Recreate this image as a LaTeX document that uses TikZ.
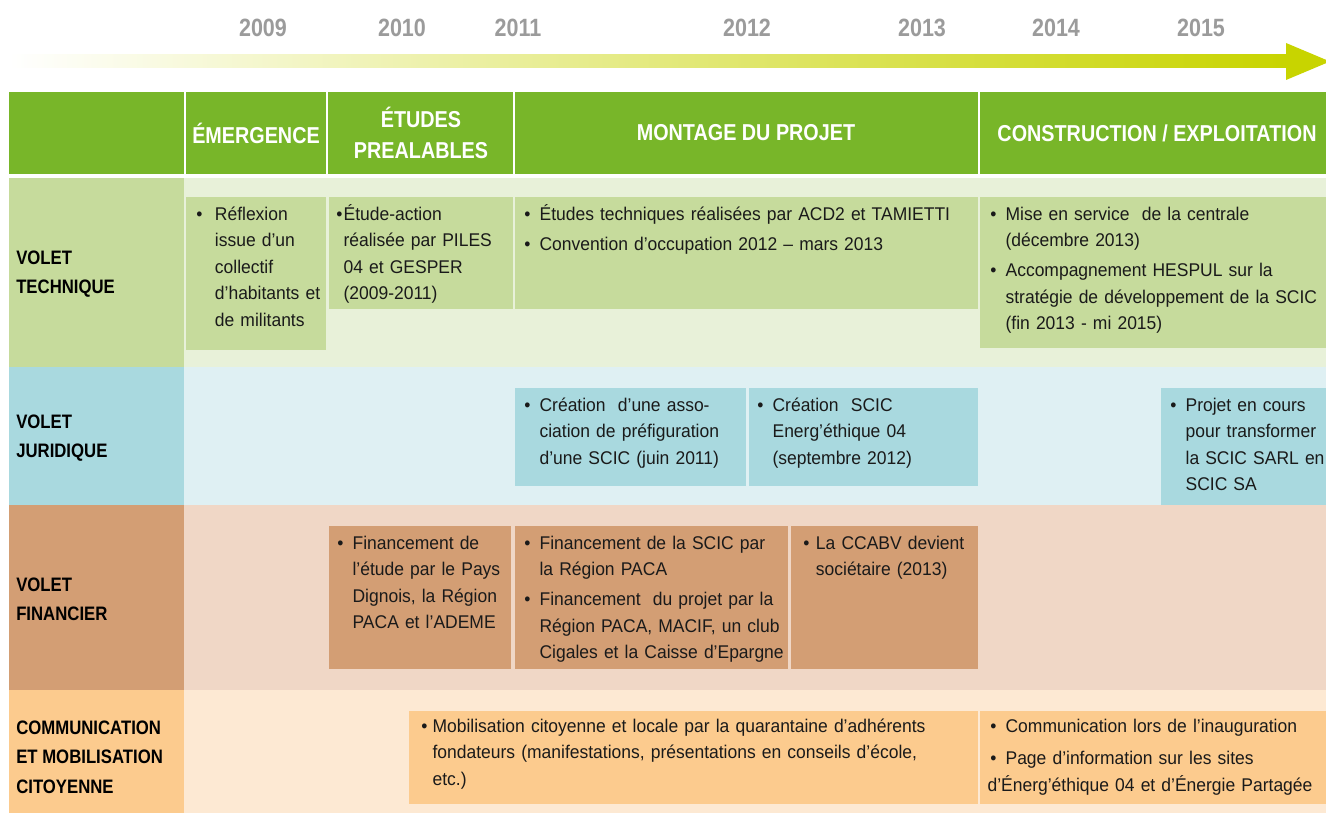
\documentclass[tikz,border=0pt]{standalone}
\usepackage{fontspec}
\setmainfont{Liberation Sans}
\newfontfamily\condfont{Liberation Sans}[FakeStretch=0.86]
\newfontfamily\bodyfont{Liberation Sans}[FakeStretch=0.95]
\usetikzlibrary{positioning}
\definecolor{HeadGreen}{HTML}{78B629}
\definecolor{ArrowGreen}{HTML}{C8D400}
\definecolor{YearGray}{HTML}{9B9B9B}
\definecolor{TechDark}{HTML}{C6DB9C}
\definecolor{TechLight}{HTML}{E8F1D9}
\definecolor{JurDark}{HTML}{A9D9DF}
\definecolor{JurLight}{HTML}{DFF0F3}
\definecolor{FinDark}{HTML}{D39E74}
\definecolor{FinLight}{HTML}{F0D7C6}
\definecolor{ComDark}{HTML}{FCCB8E}
\definecolor{ComLight}{HTML}{FDE9D3}
\definecolor{InkBlack}{HTML}{1A1A1A}
% one bullet paragraph, continuation lines hang under the text
\newcommand{\bul}[2][11.5pt]{\hangindent=#1\hangafter=1\noindent\makebox[#1][l]{\textbullet}#2\par}
\newcommand{\itmgap}{\vspace{2.6pt}}

\begin{document}
\begin{tikzpicture}[x=0.75pt, y=-0.75pt,
    yearlbl/.style={font=\condfont\bfseries\fontsize{18.75pt}{20pt}\selectfont, text=YearGray, inner sep=0pt},
    headlbl/.style={font=\condfont\bfseries\fontsize{17.25pt}{23pt}\selectfont, text=white, align=center, inner sep=0pt},
    rowlbl/.style={font=\condfont\bfseries\fontsize{14.6pt}{22pt}\selectfont, text=black, align=left, inner sep=0pt, anchor=west},
    boxtxt/.style={font=\bodyfont\fontsize{13.8pt}{19.9pt}\selectfont, text=InkBlack, text width=600pt, inner sep=0pt, anchor=base west}]
\useasboundingbox (0,0) rectangle (1326,813);
\fill[white] (0,0) rectangle (1326,813);

% time arrow and years
\shade[left color=white, right color=ArrowGreen] (9,55) rectangle (1287,68);
\fill[ArrowGreen] (1286,43) -- (1330,61.5) -- (1286,80) -- cycle;
\foreach \yr/\xx in {2009/263, 2010/402, 2011/518, 2012/747, 2013/922, 2014/1056, 2015/1201}
    \node[yearlbl] (y\yr) at (\xx,28) {\yr};

% phase header
\foreach \xa/\xb in {9/184, 186/326, 328/513, 515/978, 980/1326}
    \fill[HeadGreen] (\xa,92) rectangle (\xb,174);
\node[headlbl] (hdEmer) at (256,133) {ÉMERGENCE};
\node[headlbl] (hdEtud) at (421,133) {ÉTUDES\\PREALABLES};
\node[headlbl] (hdMont) at (746,133) {MONTAGE DU PROJET};
\node[headlbl] (hdCons) at (1157,133) {CONSTRUCTION / EXPLOITATION};

% row bands
\fill[TechDark] (9,178) rectangle (184,367);
\fill[TechLight] (184,178) rectangle (1326,367);
\fill[JurDark] (9,367) rectangle (184,505);
\fill[JurLight] (184,367) rectangle (1326,505);
\fill[FinDark] (9,505) rectangle (184,690);
\fill[FinLight] (184,505) rectangle (1326,690);
\fill[ComDark] (9,690) rectangle (184,813);
\fill[ComLight] (184,690) rectangle (1326,813);

\node[rowlbl] (lblTech) at (16,274) {VOLET\\TECHNIQUE};
\node[rowlbl] (lblJur) at (16,438) {VOLET\\JURIDIQUE};
\node[rowlbl] (lblFin) at (16,599) {VOLET\\FINANCIER};
\node[rowlbl] (lblCom) at (16,757) {COMMUNICATION\\ET MOBILISATION\\CITOYENNE};

% volet technique
\fill[TechDark] (186,197) rectangle (326,350);
\fill[TechDark] (329,197) rectangle (513,309);
\fill[TechDark] (515,197) rectangle (978,309);
\fill[TechDark] (980,197) rectangle (1326,348);
\node[boxtxt] (txtReflex) at (196,220) {\bul[14pt]{Réflexion\newline issue d’un\newline collectif\newline d’habitants et\newline de militants}};
\node[boxtxt] (txtEtude) at (336,220) {\bul[5.5pt]{Étude-action\newline réalisée par PILES\newline 04 et GESPER\newline (2009-2011)}};
\node[boxtxt] (txtTechn) at (524,220) {\bul{Études techniques réalisées par ACD2 et TAMIETTI}\itmgap
    \bul{Convention d’occupation 2012 – mars 2013}};
\node[boxtxt] (txtMise) at (990,220) {\bul{Mise en service\ \ de la centrale\newline (décembre 2013)}\itmgap
    \bul{Accompagnement HESPUL sur la\newline stratégie de développement de la SCIC\newline (fin 2013 - mi 2015)}};

% volet juridique
\fill[JurDark] (515,388) rectangle (746,486);
\fill[JurDark] (749,388) rectangle (978,486);
\fill[JurDark] (1161,388) rectangle (1326,505);
\node[boxtxt] (txtAsso) at (524,411) {\bul{Création\ \ d’une asso-\newline ciation de préfiguration\newline d’une SCIC (juin 2011)}};
\node[boxtxt] (txtScic) at (757,411) {\bul{Création\ \ SCIC\newline Energ’éthique 04\newline (septembre 2012)}};
\node[boxtxt] (txtSarl) at (1170,411) {\bul{Projet en cours\newline pour transformer\newline la SCIC SARL en\newline SCIC SA}};

% volet financier
\fill[FinDark] (329,526) rectangle (511,669);
\fill[FinDark] (515,526) rectangle (788,669);
\fill[FinDark] (791,526) rectangle (978,669);
\node[boxtxt] (txtFinEtu) at (337,549) {\bul{Financement de\newline l’étude par le Pays\newline Dignois, la Région\newline PACA et l’ADEME}};
\node[boxtxt] (txtFinPrj) at (524,549) {\bul{Financement de la SCIC par\newline la Région PACA}\itmgap
    \bul{Financement\ \ du projet par la\newline Région PACA, MACIF, un club\newline Cigales et la Caisse d’Epargne}};
\node[boxtxt] (txtCcabv) at (803,549) {\bul[9.5pt]{La CCABV devient\newline sociétaire (2013)}};

% communication et mobilisation
\fill[ComDark] (409,711) rectangle (978,804);
\fill[ComDark] (980,711) rectangle (1326,804);
\node[boxtxt] (txtMobil) at (421,732) {\bul[8.5pt]{Mobilisation citoyenne et locale par la quarantaine d’adhérents\newline fondateurs (manifestations, présentations en conseils d’école,\newline etc.)}};
\node[boxtxt] (txtInaug) at (990,732) {\bul{Communication lors de l’inauguration}\vspace{4.5pt}
    \bul{Page d’information sur les sites}
    \noindent\hspace{-2pt}d’Énerg’éthique 04 et d’Énergie Partagée};
\end{tikzpicture}
\end{document}
